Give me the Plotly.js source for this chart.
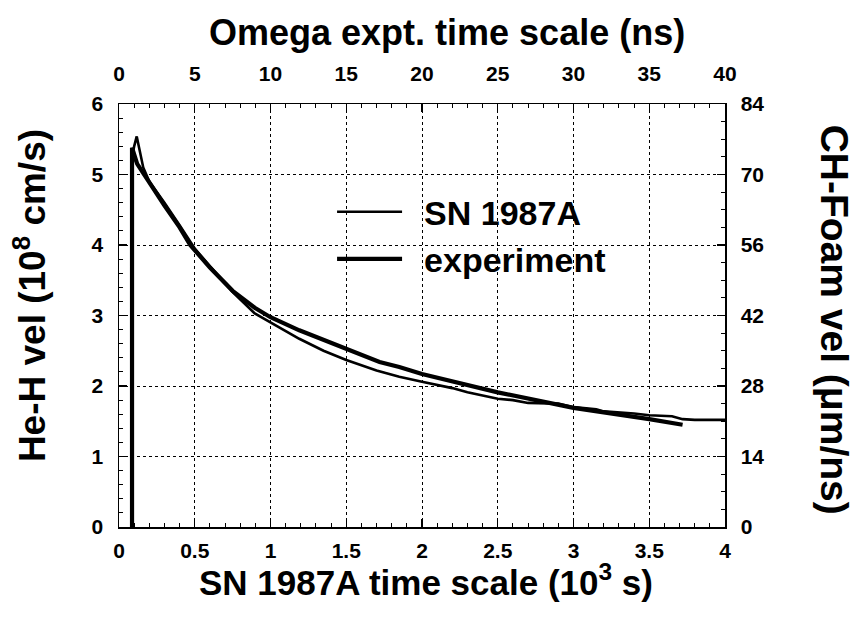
<!DOCTYPE html>
<html>
<head>
<meta charset="utf-8">
<script src="https://cdn.plot.ly/plotly-3.0.1.min.js"></script>
<style>html,body{margin:0;padding:0;background:#fff;}#chart{width:860px;height:619px;}</style>
</head>
<body>
<div id="chart"></div>
<script>
// SN 1987A simulation (stepped thin curve), x in 10^3 s, y in 10^8 cm/s
var snX = [0.088, 0.100, 0.117, 0.140, 0.160, 0.200, 0.300, 0.400, 0.500, 0.600, 0.752, 0.896, 1.000, 1.190, 1.350, 1.500, 1.700, 1.850, 2.000, 2.100, 2.200, 2.300, 2.400, 2.500, 2.600, 2.700, 2.900, 3.000, 3.150, 3.200, 3.400, 3.500, 3.650, 3.720, 3.800, 4.000];
var snY = [5.25, 5.40, 5.54, 5.30, 5.10, 4.90, 4.60, 4.28, 3.95, 3.70, 3.33, 3.03, 2.90, 2.67, 2.50, 2.37, 2.22, 2.13, 2.06, 2.02, 1.97, 1.91, 1.86, 1.82, 1.80, 1.76, 1.75, 1.70, 1.67, 1.64, 1.61, 1.585, 1.57, 1.53, 1.52, 1.52];
// Omega experiment (smooth thick curve)
var expX = [0.086, 0.086, 0.120, 0.200, 0.300, 0.400, 0.470, 0.600, 0.750, 0.896, 1.000, 1.190, 1.500, 1.720, 1.850, 2.000, 2.500, 3.000, 3.500, 3.720];
var expY = [0.00, 5.38, 5.15, 4.88, 4.56, 4.25, 4.00, 3.68, 3.35, 3.11, 2.975, 2.79, 2.53, 2.34, 2.27, 2.17, 1.91, 1.69, 1.53, 1.45];
var seriesNames = ['SN 1987A', 'experiment'];
var bottomTicks = [0, 0.5, 1, 1.5, 2, 2.5, 3, 3.5, 4];
var bottomTickText = ['0', '0.5', '1', '1.5', '2', '2.5', '3', '3.5', '4'];

var F = 'Liberation Sans, Arial, Helvetica, sans-serif';
var tickFont = {family: F, size: 21, color: '#000', weight: 'bold'};
var gap = '\u2002';

var traces = [
  {x: snX, y: snY, name: gap + seriesNames[0], mode: 'lines', line: {color: '#000', width: 2.6}, xaxis: 'x', yaxis: 'y'},
  {x: expX, y: expY, name: gap + seriesNames[1], mode: 'lines', line: {color: '#000', width: 4.2}, xaxis: 'x', yaxis: 'y'},
  {x: [], y: [], xaxis: 'x2', yaxis: 'y2', showlegend: false, hoverinfo: 'skip'}
];

var layout = {
  width: 860, height: 619,
  margin: {l: 119, r: 135, t: 104, b: 92},
  paper_bgcolor: '#fff', plot_bgcolor: '#fff',
  showlegend: true,
  legend: {x: 0.3516, y: 0.813, xanchor: 'left', yanchor: 'top', bgcolor: 'rgba(0,0,0,0)',
           font: {family: F, size: 34, color: '#000', weight: 'bold'}, itemwidth: 65, tracegroupgap: 0},
  xaxis: {range: [0, 4], tickvals: bottomTicks, ticktext: bottomTickText, ticks: 'inside', ticklen: 8, tickwidth: 1.3, tickcolor: '#000',
          showline: true, linecolor: '#000', linewidth: 1.5, showgrid: true, gridcolor: '#000', griddash: 'dot', gridwidth: 1,
          zeroline: false, tickfont: tickFont, ticklabelstandoff: 4,
          minor: {dtick: 0.1, ticks: 'inside', ticklen: 4, tickcolor: '#000', tickwidth: 1, showgrid: false}},
  xaxis2: {range: [0, 40], overlaying: 'x', side: 'top', anchor: 'y', dtick: 5, tick0: 0, ticks: 'inside', ticklen: 8, tickwidth: 1.3, tickcolor: '#000',
           showline: true, linecolor: '#000', linewidth: 1.5, showgrid: false, zeroline: false, tickfont: tickFont, ticklabelstandoff: 13,
           minor: {dtick: 1, ticks: 'inside', ticklen: 4, tickcolor: '#000', tickwidth: 1, showgrid: false}},
  yaxis: {range: [0, 6], dtick: 1, tick0: 0, ticks: 'inside', ticklen: 8, tickwidth: 1.3, tickcolor: '#000',
          showline: true, linecolor: '#000', linewidth: 1.5, showgrid: true, gridcolor: '#000', griddash: 'dot', gridwidth: 1,
          zeroline: false, tickfont: tickFont, ticklabelstandoff: 10,
          minor: {dtick: 0.2, ticks: 'inside', ticklen: 4, tickcolor: '#000', tickwidth: 1, showgrid: false}},
  yaxis2: {range: [0, 84], overlaying: 'y', side: 'right', anchor: 'x', dtick: 14, tick0: 0, ticks: 'inside', ticklen: 8, tickwidth: 1.3, tickcolor: '#000',
           showline: true, linecolor: '#000', linewidth: 1.5, showgrid: false, zeroline: false, tickfont: tickFont, ticklabelstandoff: 10,
           minor: {dtick: 3.5, ticks: 'inside', ticklen: 4, tickcolor: '#000', tickwidth: 1, showgrid: false}},
  annotations: [
    {text: 'Omega expt. time scale (ns)', xref: 'paper', yref: 'paper', x: 0.541, y: 1.17, xanchor: 'center', yanchor: 'middle', showarrow: false,
     font: {family: F, size: 36, color: '#000', weight: 'bold'}},
    {text: 'SN 1987A time scale (10<sup>3</sup> s)', xref: 'paper', yref: 'paper', x: 0.507, y: -0.125, xanchor: 'center', yanchor: 'middle', showarrow: false,
     font: {family: F, size: 35, color: '#000', weight: 'bold'}},
    {text: 'He-H vel (10<sup>8</sup> cm/s)', xref: 'paper', yref: 'paper', x: -0.147, y: 0.548, xanchor: 'center', yanchor: 'middle', showarrow: false, textangle: -90,
     font: {family: F, size: 37, color: '#000', weight: 'bold'}},
    {text: 'CH-Foam vel (μm/ns)', xref: 'paper', yref: 'paper', x: 1.18, y: 0.49, xanchor: 'center', yanchor: 'middle', showarrow: false, textangle: 90,
     font: {family: F, size: 39, color: '#000', weight: 'bold'}}
  ]
};

Plotly.newPlot('chart', traces, layout, {displayModeBar: false, staticPlot: true});
</script>
</body>
</html>
